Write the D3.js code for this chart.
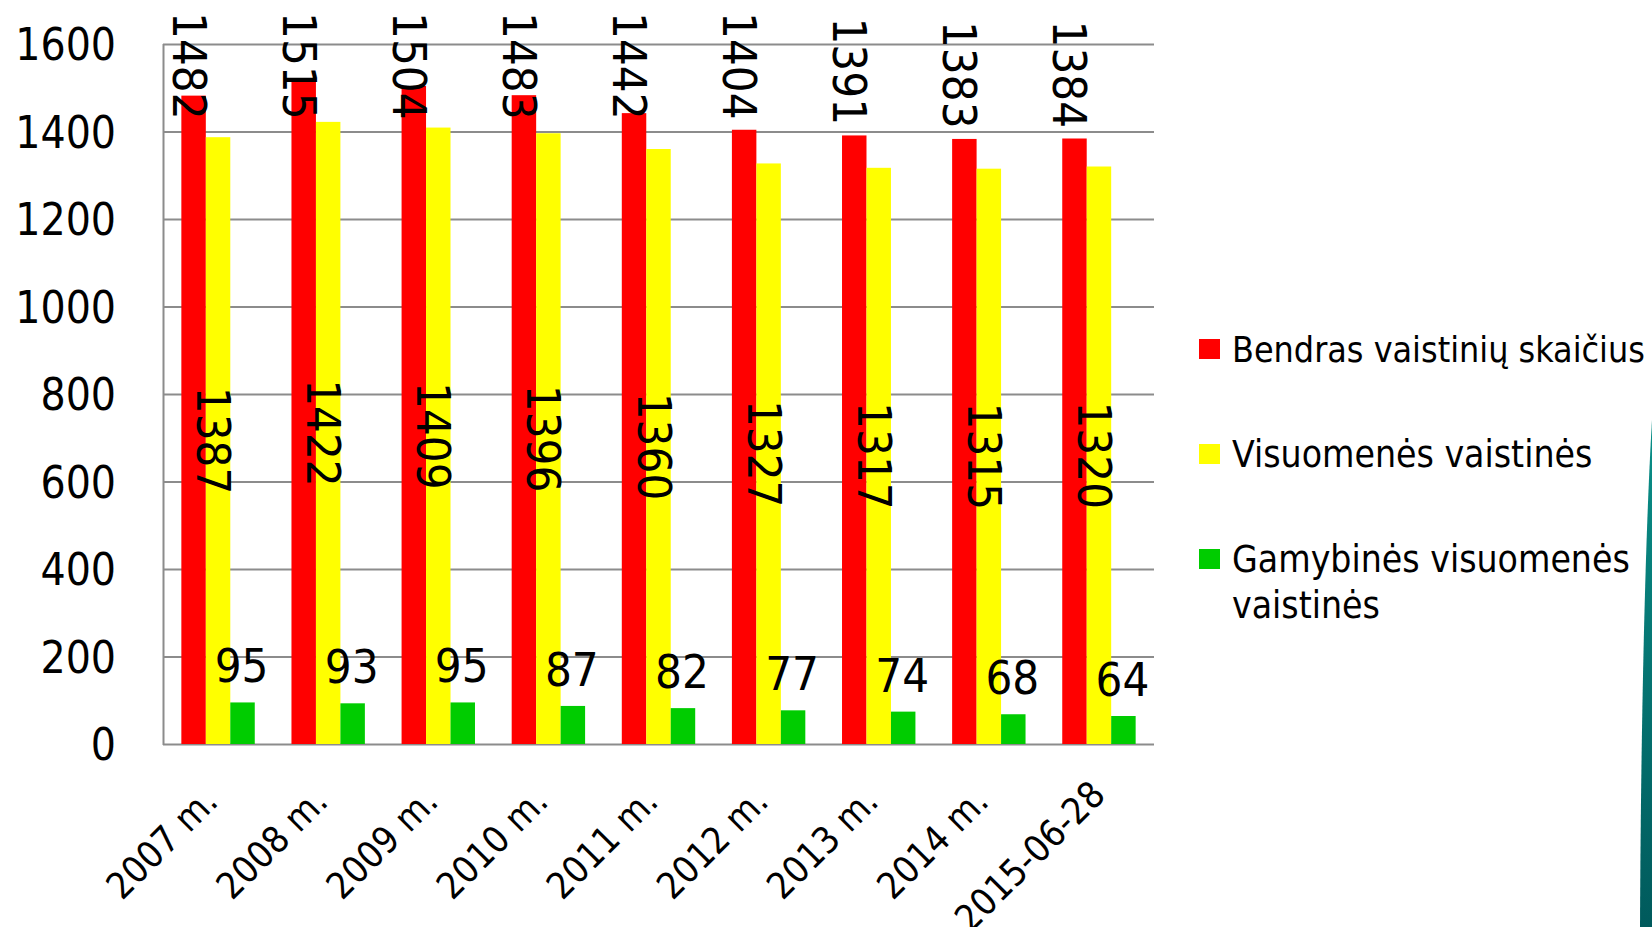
<!DOCTYPE html>
<html>
<head>
<meta charset="UTF-8">
<title>Vaistinės</title>
<script src="https://cdn.jsdelivr.net/npm/d3@7/dist/d3.min.js"></script>
<style>
  body { margin: 0; background: #fff; }
  text { font-family: 'DejaVu Sans Condensed', 'DejaVu Sans', sans-serif; fill: #000; }
</style>
</head>
<body>
<div id="chart"></div>
<script>
var categories = ['2007 m.', '2008 m.', '2009 m.', '2010 m.', '2011 m.', '2012 m.', '2013 m.', '2014 m.', '2015-06-28'];
var bendras = [1482, 1515, 1504, 1483, 1442, 1404, 1391, 1383, 1384];
var visuomenes = [1387, 1422, 1409, 1396, 1360, 1327, 1317, 1315, 1320];
var gamybines = [95, 93, 95, 87, 82, 77, 74, 68, 64];
var seriesNames = ['Bendras vaistinių skaičius', 'Visuomenės vaistinės', 'Gamybinės visuomenės vaistinės'];
var seriesColors = ['#ff0000', '#ffff00', '#00cc00'];
var yTicks = [0, 200, 400, 600, 800, 1000, 1200, 1400, 1600];

var W = 1652, H = 927;
var svg = d3.select('#chart').append('svg').attr('width', W).attr('height', H);

// decoration on the right edge
var grad = svg.append('defs').append('linearGradient').attr('id', 'teal')
    .attr('x1', 0).attr('y1', 0).attr('x2', 0).attr('y2', 1);
grad.append('stop').attr('offset', '0%').attr('stop-color', '#0a8f88');
grad.append('stop').attr('offset', '100%').attr('stop-color', '#005a5c');
svg.append('path')
    .attr('d', 'M1652,420 C1646,520 1641,700 1640,927 L1652,927 Z')
    .style('fill', 'url(#teal)');

var x = d3.scaleBand().domain(categories).range([163, 1154]);
var xs = d3.scaleBand().domain(seriesNames).range([0, x.bandwidth()]).paddingOuter(0.75);
var y = d3.scaleLinear().domain([0, 1600]).range([744, 44]);

// grid
svg.append('g').selectAll('line').data(yTicks).enter().append('line')
    .attr('x1', 163).attr('x2', 1154)
    .attr('y1', function(d) { return y(d) + 0.5; })
    .attr('y2', function(d) { return y(d) + 0.5; })
    .style('stroke', '#8c8c8c').style('stroke-width', 2);
svg.append('line').attr('x1', 163.5).attr('x2', 163.5).attr('y1', y(1600)).attr('y2', y(0) + 1)
    .style('stroke', '#8c8c8c').style('stroke-width', 2);

// y labels
svg.append('g').selectAll('text').data(yTicks).enter().append('text')
    .attr('x', 116).attr('y', function(d) { return y(d) + 16; })
    .attr('text-anchor', 'end').style('font-size', '44px')
    .text(function(d) { return d; });

var allData = [bendras, visuomenes, gamybines];
var groups = svg.append('g').selectAll('g').data(categories).enter().append('g')
    .attr('transform', function(d) { return 'translate(' + x(d) + ',0)'; });

allData.forEach(function(vals, si) {
    groups.append('rect')
        .attr('x', xs(seriesNames[si]))
        .attr('width', xs.bandwidth())
        .attr('y', function(d, i) { return y(vals[i]); })
        .attr('height', function(d, i) { return y(0) - y(vals[i]); })
        .style('fill', seriesColors[si]);
});

// data labels
var bw = xs.bandwidth();
groups.append('text')
    .attr('transform', function(d, i) {
        var cx = xs(seriesNames[0]) + bw / 2 - 21;
        var top = Math.max(12, y(bendras[i]) - 118);
        return 'translate(' + cx + ',' + top + ') rotate(90)';
    })
    .style('font-size', '47px')
    .text(function(d, i) { return bendras[i]; });

groups.append('text')
    .attr('transform', function(d, i) {
        var cx = xs(seriesNames[1]) + bw / 2 - 21;
        var mid = (y(visuomenes[i]) + y(0)) / 2;
        return 'translate(' + cx + ',' + mid + ') rotate(90)';
    })
    .attr('text-anchor', 'middle')
    .style('font-size', '47px')
    .text(function(d, i) { return visuomenes[i]; });

groups.append('text')
    .attr('x', xs(seriesNames[2]) + bw / 2 - 1)
    .attr('y', function(d, i) { return y(gamybines[i]) - 20; })
    .attr('text-anchor', 'middle')
    .style('font-size', '47px')
    .text(function(d, i) { return gamybines[i]; });

// x labels, rotated
groups.append('text')
    .attr('text-anchor', 'end')
    .style('font-size', '37px')
    .text(function(d) { return d; })
    .attr('transform', function() {
        var L = this.getComputedTextLength();
        var ex = x.bandwidth() / 2 - 15 + 0.12 * L;
        var ey = 820 - 0.12 * L;
        return 'translate(' + ex + ',' + ey + ') rotate(-45)';
    });

// legend
var legend = svg.append('g').attr('transform', 'translate(1199,0)');
var legY = [349, 454, 559];
legend.selectAll('rect').data(seriesNames).enter().append('rect')
    .attr('x', 0).attr('y', function(d, i) { return legY[i] - 10; })
    .attr('width', 21).attr('height', 20)
    .style('fill', function(d, i) { return seriesColors[i]; });
var lt = legend.selectAll('text').data(seriesNames).enter().append('text')
    .attr('x', 33).attr('y', function(d, i) { return legY[i] + 13; })
    .style('font-size', '37px');
lt.each(function(d, i) {
    var t = d3.select(this);
    if (i === 2) {
        t.append('tspan').attr('x', 33).text('Gamybinės visuomenės');
        t.append('tspan').attr('x', 33).attr('dy', 46).text('vaistinės');
    } else {
        t.text(d);
    }
});
// squeeze legend lines to the reference width
lt.each(function() {
    var w = this.getBBox().width;
    if (w > 413) d3.select(this).style('font-size', (37 * 413 / w) + 'px');
});
</script>
</body>
</html>
